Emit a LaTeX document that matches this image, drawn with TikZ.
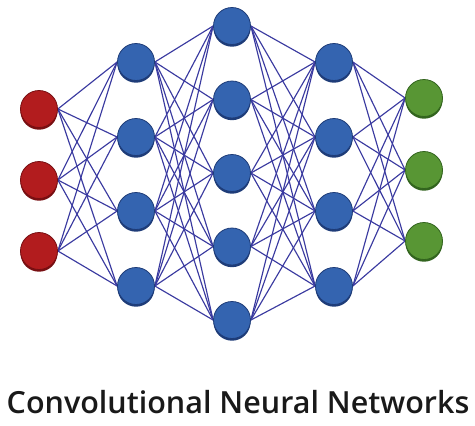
\documentclass[tikz,border=0pt]{standalone}
\usepackage{fontspec}
\IfFontExistsTF{Open Sans SemiBold}{%
  \newfontfamily\capfont{Open Sans SemiBold}\def\capsize{30.5}}{%
  \IfFontExistsTF{Open Sans Semibold}{%
    \newfontfamily\capfont{Open Sans Semibold}\def\capsize{30.5}}{%
    \newfontfamily\capfont[FakeBold=2.5]{Open Sans}\def\capsize{31.3}}}
\usetikzlibrary{shadows,backgrounds}
\definecolor{redball}{RGB}{178,28,30}
\definecolor{redrim}{RGB}{120,15,18}
\definecolor{blueball}{RGB}{52,100,176}
\definecolor{bluerim}{RGB}{30,60,120}
\definecolor{greenball}{RGB}{88,150,52}
\definecolor{greenrim}{RGB}{50,100,30}
\definecolor{edgeblue}{RGB}{58,58,160}
\tikzset{
  ball/.style={circle, minimum size=37pt, inner sep=0pt, line width=0.8pt},
  rball/.style={ball, fill=redball, draw=redrim, drop shadow={shadow xshift=0pt, shadow yshift=-2.2pt, fill=redrim, opacity=1}},
  bball/.style={ball, fill=blueball, draw=bluerim, drop shadow={shadow xshift=0pt, shadow yshift=-2.2pt, fill=bluerim, opacity=1}},
  gball/.style={ball, fill=greenball, draw=greenrim, drop shadow={shadow xshift=0pt, shadow yshift=-2.2pt, fill=greenrim, opacity=1}},
  link/.style={draw=edgeblue, line width=1.15pt},
  caption/.style={font=\capfont\fontsize{\capsize}{34}\selectfont, text=black!90, inner sep=0pt, anchor=base}
}
\begin{document}
\begin{tikzpicture}[x=1pt,y=-1pt]
\useasboundingbox (0,0) rectangle (475,426);
% input layer
\foreach \i/\y in {1/109,2/180,3/251} \node[rball] (r\i) at (39,\y) {};
% hidden layer 1
\foreach \i/\y in {1/62,2/137,3/211,4/286} \node[bball] (a\i) at (136,\y) {};
% hidden layer 2
\foreach \i/\y in {1/26,2/99.5,3/173,4/246.5,5/320} \node[bball] (b\i) at (232,\y) {};
% hidden layer 3
\foreach \i/\y in {1/62,2/137,3/211,4/286} \node[bball] (c\i) at (334,\y) {};
% output layer
\foreach \i/\y in {1/98,2/170,3/241} \node[gball] (g\i) at (424,\y) {};
% connections behind nodes
\begin{scope}[on background layer]
\foreach \i in {1,2,3} \foreach \j in {1,2,3,4} \path[link] (r\i.east) -- (a\j.west);
\foreach \i in {1,...,4} \foreach \j in {1,...,5} \path[link] (a\i.east) -- (b\j.west);
\foreach \i in {1,...,5} \foreach \j in {1,...,4} \path[link] (b\i.east) -- (c\j.west);
\foreach \i in {1,...,4} \foreach \j in {1,2,3} \path[link] (c\i.east) -- (g\j.west);
\end{scope}
\node[caption] (title) at (238,413) {Convolutional Neural Networks};
\end{tikzpicture}
\end{document}
